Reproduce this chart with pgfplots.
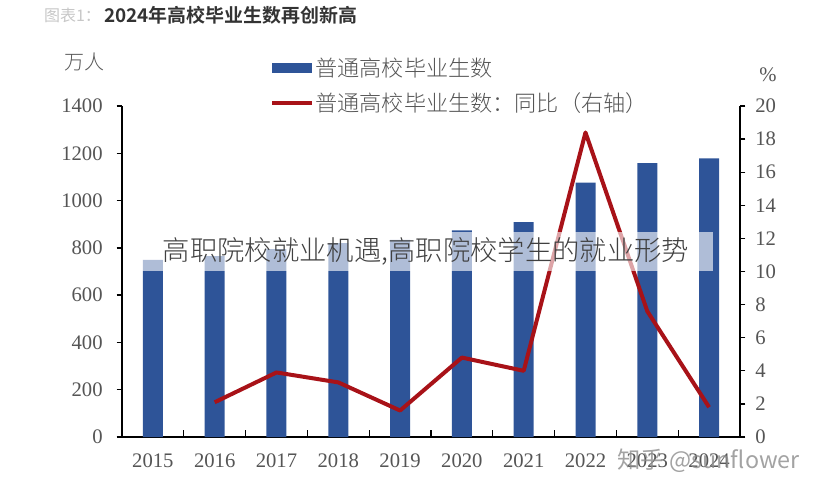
\documentclass[border=0pt]{standalone}
\usepackage{pgfplots}
\pgfplotsset{compat=1.18}
\usepackage{fontspec}
\setmainfont{Liberation Serif}
\newfontfamily\cjk{Noto Sans CJK SC}
\newfontfamily\cjkb{Noto Sans CJK SC Bold}
\newfontfamily\cjkl{Noto Sans CJK SC Light}
\definecolor{barblue}{RGB}{46,84,152}
\definecolor{linered}{RGB}{168,18,24}
\definecolor{lbl}{RGB}{85,85,85}
\begin{document}
\begin{tikzpicture}
\path[use as bounding box] (-91.5pt,-39.75pt) rectangle (525pt,327.75pt);
\begin{axis}[
  at={(0,0)}, anchor=south west,
  scale only axis, width=463.5pt, height=248.25pt,
  xmin=0.5, xmax=10.5, ymin=0, ymax=1400,
  axis y line*=left, axis x line*=bottom,
  axis line style={black, line width=1pt, -},
  xtick={1,...,10},
  xticklabels={2015,2016,2017,2018,2019,2020,2021,2022,2023,2024},
  major x tick style={draw=none},
  minor xtick={1.5,2.5,...,9.5},
  minor x tick style={black, line width=1pt},
  minor tick length=5pt,
  ytick={0,200,...,1400},
  y tick style={black, line width=1pt},
  ytick align=outside, major tick length=4pt,
  xtick align=inside,
  ticklabel style={font=\fontsize{15.5}{15.5}\selectfont, text=lbl},
  x tick label style={yshift=-9pt},
  y tick label style={xshift=-7pt},
  /pgf/number format/assume math mode=true,
  /pgf/number format/1000 sep={},
  clip=false,
]
\addplot[ybar, bar width=15pt, fill=barblue, draw=none] coordinates {
(1,749) (2,765) (3,795) (4,820) (5,834) (6,874) (7,909) (8,1076) (9,1158) (10,1179)};
\end{axis}
\begin{axis}[
  at={(0,0)}, anchor=south west,
  scale only axis, width=463.5pt, height=248.25pt,
  xmin=0.5, xmax=10.5, ymin=0, ymax=20,
  axis y line*=right, axis x line=none,
  axis line style={black, line width=1pt, -},
  ytick={0,2,...,20},
  y tick style={black, line width=1pt},
  ytick align=outside, major tick length=4pt,
  ticklabel style={font=\fontsize{15.5}{15.5}\selectfont, text=lbl},
  y tick label style={xshift=4pt},
  /pgf/number format/assume math mode=true,
  clip=false,
]
\addplot[linered, line width=3pt, line join=round] coordinates {
(2,2.1) (3,3.9) (4,3.3) (5,1.6) (6,4.8) (7,4.0) (8,18.4) (9,7.6) (10,1.8)};
\end{axis}
% title
\node[anchor=west, text=black!22, font=\cjk\fontsize{12}{12}\selectfont] at (-62pt,316.5pt) {图表1：};
\node[anchor=west, text=black!80, font=\cjkb\fontsize{14.2}{14.2}\selectfont] at (-17pt,316.5pt) {2024年高校毕业生数再创新高};
% unit labels
\node[text=lbl, font=\cjkl\fontsize{15}{15}\selectfont] at (-27.75pt,281.25pt) {万人};
\node[text=lbl, font=\fontsize{15.5}{15.5}\selectfont] at (484.5pt,271.5pt) {\%};
% legend
\fill[barblue] (112.5pt,273pt) rectangle (142.5pt,280.5pt);
\node[anchor=west, text=lbl, font=\cjkl\fontsize{16.6}{16.6}\selectfont, inner sep=1pt] at (144pt,276.75pt) {普通高校毕业生数};
\draw[linered, line width=3pt] (112.5pt,250.5pt) -- (142.5pt,250.5pt);
\node[anchor=west, text=lbl, font=\cjkl\fontsize{16.6}{16.6}\selectfont, inner sep=1pt] at (144pt,250.5pt) {普通高校毕业生数：同比（右轴）};
% overlay
\fill[white, opacity=0.62] (9.75pt,124.5pt) rectangle (443.25pt,153.75pt);
\node[text=black!75, font=\cjkl\fontsize{20.5}{20.5}\selectfont] at (228pt,139.5pt) {高职院校就业机遇,高职院校学生的就业形势};
% watermark
\node[text=black!45, opacity=0.8, font=\cjk\fontsize{17.5}{17.5}\selectfont] at (440pt,-18pt) {知乎 @sunflower};
\end{tikzpicture}
\end{document}
